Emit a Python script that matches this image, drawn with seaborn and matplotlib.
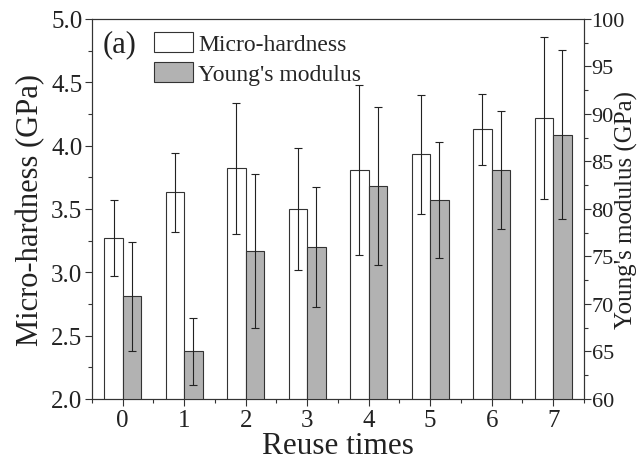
import matplotlib
matplotlib.use("Agg")
import matplotlib.pyplot as plt
from matplotlib.patches import Patch
from matplotlib.ticker import MultipleLocator
import seaborn as sns
import pandas as pd

# data
reuse = [0, 1, 2, 3, 4, 5, 6, 7]
hardness = [3.27, 3.63, 3.82, 3.50, 3.81, 3.93, 4.13, 4.22]
hardness_err = [0.30, 0.31, 0.52, 0.48, 0.67, 0.47, 0.28, 0.64]
modulus = [70.8, 65.0, 75.6, 76.0, 82.4, 80.9, 84.1, 87.8]
modulus_err = [5.7, 3.5, 8.1, 6.3, 8.3, 6.1, 6.2, 8.9]

series = ["Micro-hardness", "Young's modulus"]
colors = {"Micro-hardness": "white", "Young's modulus": "#b2b2b2"}

df_h = pd.DataFrame({"reuse": reuse, "value": hardness, "series": series[0]})
df_m = pd.DataFrame({"reuse": reuse, "value": modulus, "series": series[1]})

sns.set_style("ticks")
plt.rcParams["font.family"] = ["Liberation Serif", "DejaVu Serif"]

fig = plt.figure(figsize=(6.41, 4.64), dpi=100)
ax = fig.add_axes([0.1435, 0.138, 0.7675, 0.819])
ax2 = ax.twinx()

edge = "#333333"
lw = 0.8
sns.barplot(data=df_h, x="reuse", y="value", hue="series", hue_order=series,
            palette=colors, width=0.6, dodge=True, errorbar=None,
            edgecolor=edge, linewidth=lw, legend=False, ax=ax)
sns.barplot(data=df_m, x="reuse", y="value", hue="series", hue_order=series,
            palette=colors, width=0.6, dodge=True, errorbar=None,
            edgecolor=edge, linewidth=lw, legend=False, ax=ax2)

# error bars at the centres of the drawn bars
xh = [p.get_x() + p.get_width() / 2 for p in ax.patches[:len(reuse)]]
xm = [p.get_x() + p.get_width() / 2 for p in ax2.patches[:len(reuse)]]
ax.errorbar(xh, hardness, yerr=hardness_err, fmt="none", ecolor="#222222",
            elinewidth=lw, capsize=2.6, capthick=lw)
ax2.errorbar(xm, modulus, yerr=modulus_err, fmt="none", ecolor="#222222",
             elinewidth=lw, capsize=2.6, capthick=lw)

ax.set_xlim(-0.5, 7.5)
ax.set_ylim(2.0, 5.0)
ax2.set_ylim(60, 100)
ax.yaxis.set_major_locator(MultipleLocator(0.5))
ax.yaxis.set_minor_locator(MultipleLocator(0.25))
ax2.yaxis.set_major_locator(MultipleLocator(5))
ax2.yaxis.set_minor_locator(MultipleLocator(2.5))
ax.xaxis.set_minor_locator(MultipleLocator(0.5))
ax.set_xticks(range(len(reuse)))
ax.set_xticklabels([str(r) for r in reuse])
ax.set_yticks([2.0, 2.5, 3.0, 3.5, 4.0, 4.5, 5.0])
ax.set_yticklabels([f"{v:.1f}" for v in ax.get_yticks()])

for a in (ax, ax2):
    for s in a.spines.values():
        s.set_linewidth(lw)
        s.set_color("#333333")
    a.tick_params(which="major", direction="out", length=5, width=lw,
                  labelsize=18, colors="#333333", labelcolor="#222222", pad=2)
    a.tick_params(which="minor", direction="out", length=3, width=lw,
                  colors="#333333")
ax.tick_params(axis="x", which="both", top=False)
ax.tick_params(axis="y", which="both", right=False)
ax2.tick_params(axis="y", which="both", left=False, pad=0.5, labelsize=16)

ax.set_xlabel("Reuse times", fontsize=22.5, labelpad=0, color="#222222")
ax.set_ylabel("Micro-hardness (GPa)", fontsize=22, labelpad=4, color="#222222")
ax2.set_ylabel("Young's modulus (GPa)", fontsize=18, color="#222222")
ax2.yaxis.set_label_coords(1.062, 0.50)

ax.text(0.022, 0.935, "(a)", transform=ax.transAxes, fontsize=22,
        va="center", ha="left", color="#222222")
handles = [Patch(facecolor=colors[s], edgecolor=edge, linewidth=lw) for s in series]
ax.legend(handles, series, loc="upper left", bbox_to_anchor=(0.093, 1.008),
          frameon=False, fontsize=17, handlelength=1.65, handleheight=0.9,
          handletextpad=0.2, labelspacing=0.3, borderaxespad=0.3)

fig.savefig("out.png", dpi=100)
